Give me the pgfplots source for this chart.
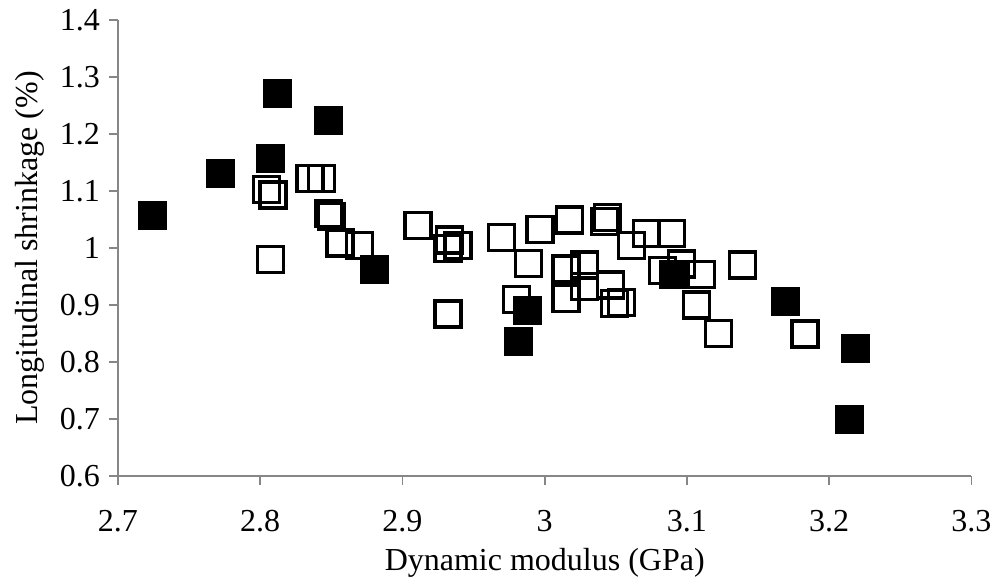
\documentclass[border=0pt]{standalone}
\usepackage{fontspec}
\setmainfont{Liberation Serif}
\usepackage{pgfplots}
\pgfplotsset{compat=1.18}
\definecolor{axgray}{RGB}{134,134,134}
\begin{document}
\fontsize{16pt}{19pt}\selectfont
\begin{tikzpicture}
\begin{axis}[
  at={(0,0)}, anchor=origin,
  scale only axis,
  width=426.75pt, height=228pt,
  xmin=2.7, xmax=3.3, ymin=0.6, ymax=1.4,
  xtick={2.7,2.8,2.9,3,3.1,3.2,3.3},
  ytick={0.6,0.7,0.8,0.9,1,1.1,1.2,1.3,1.4},
  axis x line=bottom, axis y line=left,
  axis line style={axgray, line width=0.9pt, -},
  every tick/.style={axgray, line width=0.9pt},
  tick align=outside, major tick length=4.5pt,
  /pgf/number format/assume math mode=true,
  ticklabel style={font=\fontsize{16pt}{19pt}\selectfont},
  xticklabel style={yshift=-7.25pt},
  yticklabel style={xshift=1pt},
  label style={font=\fontsize{16pt}{19pt}\selectfont},
  xlabel={Dynamic modulus (GPa)},
  ylabel={Longitudinal shrinkage (\%)},
  xlabel style={at={(axis description cs:0.5,0)}, anchor=base, yshift=-47.3pt},
  ylabel style={at={(axis description cs:-0.0949,0.5)}, anchor=base, rotate=0},
  clip=false,
]
\addplot[only marks, mark=square, mark size=6.5pt, mark options={line width=1.65pt, draw=black}] coordinates {
(2.8045,1.103) (2.809,1.093) (2.807,0.980) (2.835,1.122) (2.843,1.122)
(2.848,1.060) (2.850,1.055) (2.856,1.009) (2.870,1.005) (2.911,1.040)
(2.933,1.014) (2.932,0.999) (2.939,1.004) (2.932,0.884) (2.9696,1.019)
(2.9884,0.973) (2.9966,1.033) (3.0176,1.049) (3.0422,1.046) (3.044,1.054)
(2.980,0.910) (3.015,0.963) (3.028,0.970) (3.015,0.912) (3.028,0.933)
(3.046,0.935) (3.049,0.903) (3.054,0.904) (3.061,1.004) (3.0715,1.026)
(3.089,1.026) (3.083,0.961) (3.096,0.972) (3.110,0.954) (3.1066,0.900)
(3.122,0.850) (3.139,0.970) (3.183,0.849)
};
\addplot[only marks, mark=square*, mark size=7pt, mark options={line width=0.2pt, draw=black, fill=black}] coordinates {
(2.724,1.057) (2.7715,1.131) (2.812,1.272) (2.848,1.224) (2.807,1.158)
(2.880,0.963) (2.988,0.891) (2.981,0.836) (3.090,0.954) (3.169,0.907)
(3.218,0.824) (3.214,0.700)
};
\end{axis}
\pgfresetboundingbox
\path[use as bounding box] (-59pt,-50.5pt) rectangle (437.5pt,238pt);
\end{tikzpicture}
\end{document}
